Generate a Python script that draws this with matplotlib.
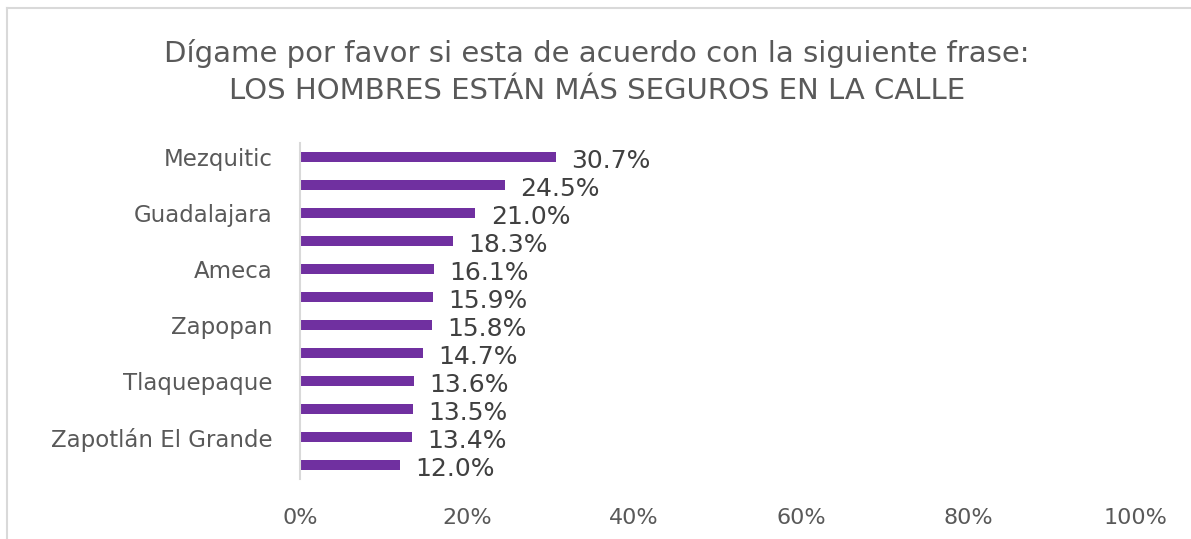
import matplotlib
matplotlib.use('Agg')
import matplotlib.pyplot as plt
from matplotlib.lines import Line2D

plt.rcParams['font.family'] = ['DejaVu Sans']

# Data (top to bottom); every second category label is hidden in the original
categories = ['Mezquitic', '', 'Guadalajara', '', 'Ameca', '', 'Zapopan', '',
              'Tlaquepaque', '', 'Zapotlán El Grande', '']
values = [30.7, 24.5, 21.0, 18.3, 16.1, 15.9, 15.8, 14.7, 13.6, 13.5, 13.4, 12.0]
xticks = [0, 20, 40, 60, 80, 100]

title = ('Dígame por favor si esta de acuerdo con la siguiente frase:\n'
         'LOS HOMBRES ESTÁN MÁS SEGUROS EN LA CALLE')

bar_color = '#7030A0'
text_gray = '#595959'
label_dark = '#404040'

fig = plt.figure(figsize=(11.91, 5.39), dpi=100)
ax = fig.add_axes([300 / 1191, 1 - 479 / 539, 835 / 1191, 336 / 539])

y = list(range(len(values)))
ax.barh(y, values, height=0.36, color=bar_color)
ax.set_ylim(len(values) - 0.5, -0.5)
ax.set_xlim(0, 100)

for yi, v in zip(y, values):
    ax.annotate(f'{v:.1f}%', xy=(v, yi), xytext=(11, -3), textcoords='offset points',
                ha='left', va='center', fontsize=18, color=label_dark)

ax.set_yticks(y)
ax.set_yticklabels(categories, fontsize=16.5, color=text_gray)
ax.set_xticks(xticks)
ax.set_xticklabels([f'{t}%' for t in xticks], fontsize=16, color=text_gray)
ax.tick_params(axis='both', length=0)
ax.tick_params(axis='y', pad=20)
ax.tick_params(axis='x', pad=21)

for side in ['top', 'right', 'bottom']:
    ax.spines[side].set_visible(False)
ax.spines['left'].set_color('#D9D9D9')
ax.spines['left'].set_linewidth(1.5)

fig.text(0.501, 1 - 72 / 539, title, ha='center', va='center', fontsize=21,
         color=text_gray, linespacing=1.4)

# chart border (light gray frame, partly cut off)
fig.add_artist(Line2D([6.5 / 1191, 1], [1 - 7.5 / 539, 1 - 7.5 / 539],
                      transform=fig.transFigure, color='#D9D9D9', linewidth=1.5))
fig.add_artist(Line2D([6.5 / 1191, 6.5 / 1191], [0, 1 - 7.5 / 539],
                      transform=fig.transFigure, color='#D9D9D9', linewidth=1.5))

fig.savefig('out.png', dpi=100)
